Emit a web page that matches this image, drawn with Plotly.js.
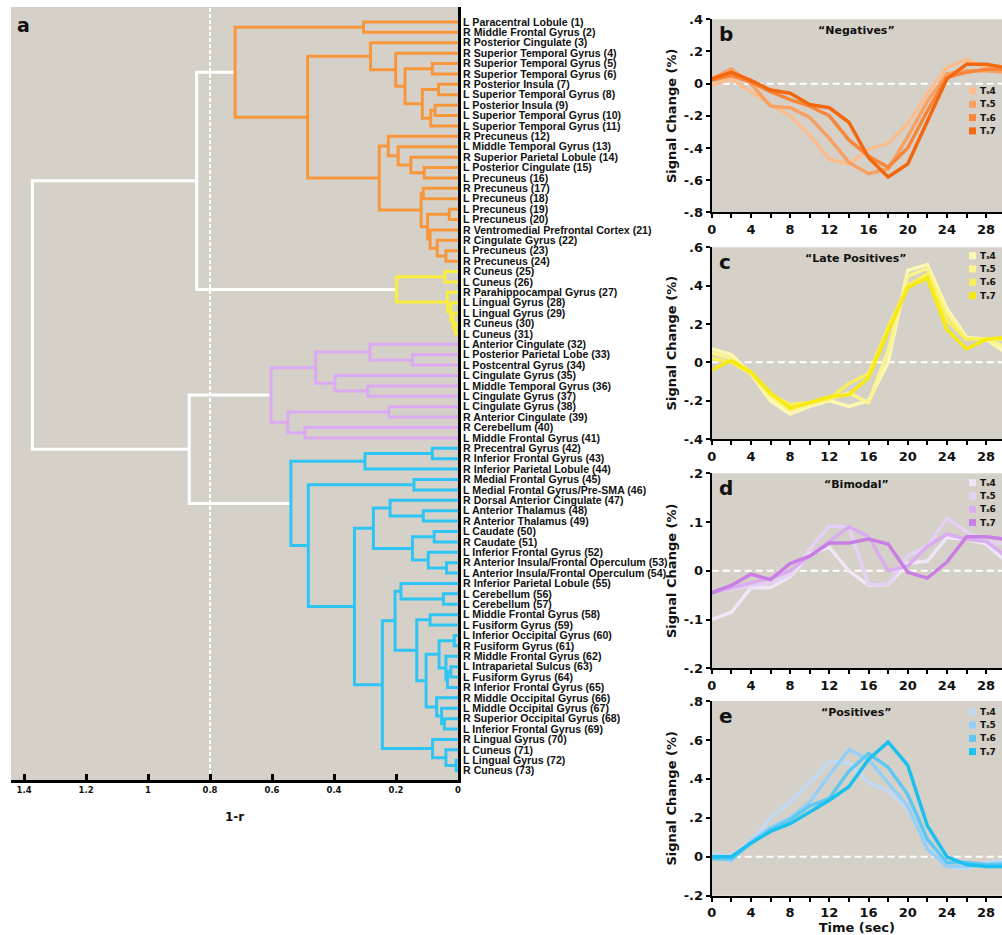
<!DOCTYPE html>
<html><head><meta charset="utf-8">
<script src="https://cdn.plot.ly/plotly-3.0.1.min.js"></script>
<style>html,body{margin:0;padding:0;background:#fff}</style>
</head><body><div id="chart" style="width:1002px;height:935px"></div>
<script>
// ---------------- DATA ----------------
const leafLabels = [
 'L Paracentral Lobule (1)','R Middle Frontal Gyrus (2)','R Posterior Cingulate (3)','R Superior Temporal Gyrus (4)',
 'R Superior Temporal Gyrus (5)','R Superior Temporal Gyrus (6)','R Posterior Insula (7)','L Superior Temporal Gyrus (8)',
 'L Posterior Insula (9)','L Superior Temporal Gyrus (10)','L Superior Temporal Gyrus (11)','R Precuneus (12)',
 'L Middle Temporal Gyrus (13)','R Superior Parietal Lobule (14)','L Posterior Cingulate (15)','L Precuneus (16)',
 'R Precuneus (17)','L Precuneus (18)','L Precuneus (19)','L Precuneus (20)','R Ventromedial Prefrontal Cortex (21)',
 'R Cingulate Gyrus (22)','L Precuneus (23)','R Precuneus (24)','R Cuneus (25)','L Cuneus (26)',
 'R Parahippocampal Gyrus (27)','L Lingual Gyrus (28)','L Lingual Gyrus (29)','R Cuneus (30)','L Cuneus (31)',
 'L Anterior Cingulate (32)','L Posterior Parietal Lobe (33)','L Postcentral Gyrus (34)','L Cingulate Gyrus (35)',
 'L Middle Temporal Gyrus (36)','L Cingulate Gyrus (37)','L Cingulate Gyrus (38)','R Anterior Cingulate (39)',
 'R Cerebellum (40)','L Middle Frontal Gyrus (41)','R Precentral Gyrus (42)','R Inferior Frontal Gyrus (43)',
 'R Inferior Parietal Lobule (44)','R Medial Frontal Gyrus (45)','L Medial Frontal Gyrus/Pre-SMA (46)',
 'R Dorsal Anterior Cingulate (47)','L Anterior Thalamus (48)','R Anterior Thalamus (49)','L Caudate (50)',
 'R Caudate (51)','L Inferior Frontal Gyrus (52)','R Anterior Insula/Frontal Operculum (53)',
 'L Anterior Insula/Frontal Operculum (54)','R Inferior Parietal Lobule (55)','L Cerebellum (56)','L Cerebellum (57)',
 'L Middle Frontal Gyrus (58)','L Fusiform Gyrus (59)','L Inferior Occipital Gyrus (60)','R Fusiform Gyrus (61)',
 'R Middle Frontal Gyrus (62)','L Intraparietal Sulcus (63)','L Fusiform Gyrus (64)','R Inferior Frontal Gyrus (65)',
 'R Middle Occipital Gyrus (66)','L Middle Occipital Gyrus (67)','R Superior Occipital Gyrus (68)',
 'L Inferior Frontal Gyrus (69)','R Lingual Gyrus (70)','L Cuneus (71)','L Lingual Gyrus (72)','R Cuneus (73)'
];
// linkage: positive = leaf number, negative = earlier merge (1-based index)
const mergeLeft  = [1,5,7,9,-4,-3,-2,4,3,15,14,13,12,17,19,23,22,21,-15,-14,-13,-9,-1,
                    25,30,29,28,27,-24,-23,
                    33,32,36,35,-32,38,40,-36,-35,
                    42,-40,45,48,47,50,53,52,-45,-44,56,55,58,60,63,-54,62,-53,68,67,66,-57,-52,-51,72,71,70,-63,-49,-42,-41,-39,-30];
const mergeRight = [2,6,8,10,11,-5,-6,-7,-8,16,-10,-11,-12,18,20,24,-16,-17,-18,-19,-20,-21,-22,
                    26,31,-25,-26,-27,-28,-29,
                    34,-31,37,-33,-34,39,41,-37,-38,
                    43,44,46,49,-43,51,54,-46,-47,-48,57,-50,59,61,64,65,-55,-56,69,-58,-59,-60,-61,-62,73,-64,-65,-66,-67,-68,-69,-70,-71];
const mergeHeight = [0.305,0.083,0.063,0.074,0.088,0.115,0.171,0.201,0.282,0.109,0.152,0.193,0.225,0.112,0.028,0.039,0.067,0.090,0.098,0.119,0.254,0.485,0.719,
                    0.042,0.008,0.015,0.023,0.034,0.198,0.843,
                    0.147,0.284,0.291,0.397,0.459,0.223,0.494,0.549,0.603,
                    0.083,0.300,0.142,0.112,0.219,0.077,0.037,0.096,0.147,0.273,0.047,0.184,0.090,0.012,0.023,0.034,0.039,0.061,0.044,0.053,0.069,0.103,0.133,0.203,0.006,0.039,0.082,0.244,0.334,0.483,0.539,0.867,1.373];
const cutHeight = 0.8;
const dendroTickVals = [1.4,1.2,1,0.8,0.6,0.4,0.2,0];
const dendroTickText = ['1.4','1.2','1','0.8','0.6','0.4','0.2','0'];

const timeSec = [0,2,4,6,8,10,12,14,16,18,20,22,24,26,28,30];
const seriesNames = ['T\u209B4','T\u209B5','T\u209B6','T\u209B7'];

const negT4 = [-0.01,0.03,-0.05,-0.13,-0.20,-0.32,-0.47,-0.50,-0.41,-0.37,-0.25,-0.06,0.10,0.15,0.10,0.08];
const negT5 = [0.03,0.09,0.00,-0.14,-0.15,-0.21,-0.34,-0.49,-0.56,-0.53,-0.33,-0.11,0.06,0.08,0.08,0.07];
const negT6 = [0.02,0.05,0.01,-0.05,-0.10,-0.14,-0.20,-0.35,-0.45,-0.52,-0.40,-0.17,0.04,0.07,0.09,0.09];
const negT7 = [0.03,0.07,0.02,-0.04,-0.06,-0.13,-0.15,-0.24,-0.46,-0.58,-0.50,-0.24,0.03,0.12,0.12,0.10];

const lateT4 = [0.07,0.04,-0.06,-0.20,-0.27,-0.23,-0.20,-0.23,-0.20,0.00,0.48,0.51,0.28,0.13,0.12,0.05];
const lateT5 = [0.05,0.02,-0.05,-0.18,-0.25,-0.22,-0.19,-0.16,-0.21,0.06,0.45,0.49,0.26,0.12,0.12,0.08];
const lateT6 = [0.02,0.00,-0.06,-0.17,-0.22,-0.21,-0.19,-0.11,-0.06,0.18,0.40,0.46,0.22,0.12,0.12,0.12];
const lateT7 = [-0.04,0.01,-0.05,-0.16,-0.24,-0.21,-0.18,-0.17,-0.08,0.16,0.39,0.44,0.17,0.07,0.12,0.13];

const bimT4 = [-0.100,-0.085,-0.035,-0.035,-0.012,0.035,0.048,0.000,-0.030,-0.028,0.015,0.020,0.068,0.065,0.055,0.020];
const bimT5 = [-0.045,-0.038,-0.030,-0.025,-0.008,0.045,0.092,0.090,-0.028,-0.028,0.030,0.050,0.108,0.080,0.060,0.055];
const bimT6 = [-0.045,-0.035,-0.025,-0.015,0.000,0.030,0.060,0.090,0.070,0.000,0.010,0.050,0.075,0.065,0.060,0.030];
const bimT7 = [-0.045,-0.030,-0.007,-0.018,0.015,0.030,0.057,0.057,0.065,0.055,-0.003,-0.015,0.018,0.070,0.070,0.065];

const posT4 = [0.02,0.00,0.08,0.20,0.28,0.38,0.49,0.48,0.38,0.34,0.25,0.05,-0.05,-0.06,-0.03,-0.02];
const posT5 = [0.00,-0.02,0.08,0.15,0.20,0.28,0.42,0.55,0.50,0.38,0.26,0.04,-0.05,-0.05,-0.04,-0.03];
const posT6 = [-0.01,-0.01,0.07,0.14,0.19,0.26,0.30,0.44,0.53,0.46,0.32,0.09,-0.03,-0.03,-0.04,-0.04];
const posT7 = [0.00,0.00,0.07,0.13,0.17,0.23,0.29,0.36,0.50,0.59,0.47,0.16,0.00,-0.04,-0.05,-0.05];

const panelTitles = ['\u201cNegatives\u201d','\u201cLate Positives\u201d','\u201cBimodal\u201d','\u201cPositives\u201d'];
const panelLetters = ['b','c','d','e'];
const yTickVals = [[0.4,0.2,0,-0.2,-0.4,-0.6,-0.8],[0.6,0.4,0.2,0,-0.2,-0.4],[0.2,0.1,0,-0.1,-0.2],[0.8,0.6,0.4,0.2,0,-0.2]];
const yTickText = [['.4','.2','0','-.2','-.4','-.6','-.8'],['.6','.4','.2','0','-.2','-.4'],['.2','.1','0','-.1','-.2'],['.8','.6','.4','.2','0','-.2']];
const yRanges = [[-0.8,0.4],[-0.4,0.6],[-0.2,0.2],[-0.2,0.8]];

// ---------------- STYLE ----------------
const W = 1002, H = 935;
const px = x => x / W, py = y => 1 - y / H;
const gray = '#d5d1c8';
const clusterColors = ['#f7963a','#f9ee3e','#dcaaf2','#2ec5f4'];
const aboveCutColor = '#ffffff';
const panelColors = [
  ['#fbbd8e','#f9a060','#f7863a','#f3680e'],
  ['#fcf8b4','#fbf48e','#f9ef5a','#f6ea12'],
  ['#efe6f7','#e6d0f6','#daadf0','#c87ee4'],
  ['#c2d9f4','#93cff6','#5ec8f2','#1cc0ee']
];
const panelData = [[negT4,negT5,negT6,negT7],[lateT4,lateT5,lateT6,lateT7],[bimT4,bimT5,bimT6,bimT7],[posT4,posT5,posT6,posT7]];
const panelBox = [[19.3,212.3],[247.3,439],[473.3,668.3],[701,895.7]]; // top,bottom px
const legendTop = [91,255.7,482.7,711.7];

// ---------------- DENDROGRAM GEOMETRY ----------------
const mergePos = [];
const nodePos = n => n > 0 ? n : mergePos[-n-1];
const nodeH = n => n > 0 ? 0 : mergeHeight[-n-1];
for (let k = 0; k < mergeLeft.length; k++) mergePos.push((nodePos(mergeLeft[k]) + nodePos(mergeRight[k])) / 2);
const parent = {};
mergeLeft.forEach((a, k) => { parent[a] = -(k+1); parent[mergeRight[k]] = -(k+1); });
function clusterRoot(n){ while (parent[n] !== undefined && nodeH(parent[n]) < cutHeight) n = parent[n]; return n; }
const roots = [];
mergeHeight.forEach((h, k) => { if (h < cutHeight) { const r = clusterRoot(-(k+1)); if (!roots.includes(r)) roots.push(r); } });
roots.sort((a, b) => nodePos(a) - nodePos(b));
const groups = {};
mergeLeft.forEach((a, k) => {
  const b = mergeRight[k], h = mergeHeight[k];
  const col = h < cutHeight ? clusterColors[roots.indexOf(clusterRoot(-(k+1)))] : aboveCutColor;
  if (!groups[col]) groups[col] = {x: [], y: []};
  groups[col].x.push(nodeH(a), h, h, nodeH(b), null);
  groups[col].y.push(nodePos(a), nodePos(a), nodePos(b), nodePos(b), null);
});
const traces = [];
[aboveCutColor, ...clusterColors].forEach(col => {
  if (!groups[col]) return;
  traces.push({type:'scatter', mode:'lines', x: groups[col].x, y: groups[col].y, xaxis:'x', yaxis:'y',
    line:{color: col, width: 3}, hoverinfo:'skip', showlegend:false});
});

// ---------------- PANELS ----------------
const layout = {
  width: W, height: H, margin:{l:0,r:0,t:0,b:0}, paper_bgcolor:'#ffffff', plot_bgcolor: gray, showlegend:false,
  font:{family:'DejaVu Sans', color:'#111'},
  xaxis:{domain:[px(11), px(458)], range:[1.442, 0], anchor:'y', tickmode:'array', tickvals: dendroTickVals, ticktext: dendroTickText,
    ticks:'inside', ticklen:6, tickwidth:3, tickcolor:'#000', showline:true, linecolor:'#000', linewidth:3, showgrid:false, zeroline:false,
    automargin:false, tickfont:{size:8.5, weight:'bold', color:'#111'},
    title:{text:'1-r', font:{size:12, weight:'bold', color:'#111'}, standoff:19}},
  yaxis:{domain:[py(780), py(7)], range:[73.9, -0.44], anchor:'x', side:'right', tickmode:'array',
    tickvals: leafLabels.map((_, i) => i + 1), ticktext: leafLabels, ticks:'', showline:true, linecolor:'#000', linewidth:3,
    showgrid:false, zeroline:false, automargin:false,
    tickfont:{family:'Liberation Sans', size:10.6, weight:'bold', color:'#111'}},
  shapes:[{type:'line', xref:'x', yref:'y domain', x0:cutHeight, x1:cutHeight, y0:0, y1:1, layer:'below',
    line:{color:'#ffffff', width:2, dash:'4px,2px'}}],
  annotations:[{text:'a', xref:'paper', yref:'paper', x:px(15), y:py(12), xanchor:'left', yanchor:'top', showarrow:false,
    font:{size:19, weight:'bold', color:'#111'}}]
};

panelData.forEach((series, p) => {
  const xa = 'x' + (p+2), ya = 'y' + (p+2);
  series.forEach((vals, s) => {
    traces.push({type:'scatter', mode:'lines', x: timeSec, y: vals, xaxis: xa, yaxis: ya, name: seriesNames[s],
      line:{color: panelColors[p][s], width:3.5}, hoverinfo:'skip', showlegend:false});
  });
  const [top, bot] = panelBox[p];
  const xax = {domain:[px(711.7), 1], range:[0, 29.62], anchor: ya, tickmode:'linear', tick0:0, dtick:4,
    ticks:'outside', ticklen:4, tickwidth:2, tickcolor:'#000', showline:true, linecolor:'#000', linewidth:2,
    showgrid:false, zeroline:false, automargin:false, tickfont:{size:13, weight:'bold', color:'#111'},
    minor:{tickmode:'linear', tick0:0, dtick:2, ticks:'outside', ticklen:4, tickwidth:2, tickcolor:'#000', showgrid:false}};
  if (p === 3) xax.title = {text:'Time (sec)', font:{size:13, weight:'bold', color:'#111'}, standoff:8};
  layout['xaxis' + (p+2)] = xax;
  layout['yaxis' + (p+2)] = {domain:[py(bot), py(top)], range: yRanges[p], anchor: xa, tickmode:'array',
    tickvals: yTickVals[p], ticktext: yTickText[p], ticks:'outside', ticklen:4, tickwidth:2, tickcolor:'#000',
    showline:true, linecolor:'#000', linewidth:2, showgrid:false, zeroline:false, automargin:false,
    tickfont:{size:13, weight:'bold', color:'#111'},
    title:{text:'Signal Change (%)', font:{size:13, weight:'bold', color:'#111'}, standoff:4}};
  layout.shapes.push({type:'line', xref: xa + ' domain', yref: ya, x0:0, x1:1, y0:0, y1:0, layer:'below',
    line:{color:'#ffffff', width:2, dash:'7px,4px'}});
  layout.annotations.push({text: panelLetters[p], xref:'paper', yref:'paper', x:px(717), y:py(top + 1), xanchor:'left', yanchor:'top',
    showarrow:false, font:{size:20, weight:'bold', color:'#111'}});
  layout.annotations.push({text: panelTitles[p], xref:'paper', yref:'paper', x:px(856), y:py(top + 11), xanchor:'center', yanchor:'middle',
    showarrow:false, font:{size:11, weight:'bold', color:'#111'}});
  seriesNames.forEach((nm, s) => {
    const yc = legendTop[p] + s * 13.3;
    layout.shapes.push({type:'rect', xref:'paper', yref:'paper', x0:px(969), x1:px(976), y0:py(yc + 3.5), y1:py(yc - 3.5),
      line:{width:0}, fillcolor: panelColors[p][s]});
    layout.annotations.push({text: nm, xref:'paper', yref:'paper', x:px(978), y:py(yc), xanchor:'left', yanchor:'middle',
      showarrow:false, font:{size:9, weight:'bold', color:'#111'}});
  });
});

Plotly.newPlot('chart', traces, layout, {staticPlot:true, displayModeBar:false});
</script></body></html>
